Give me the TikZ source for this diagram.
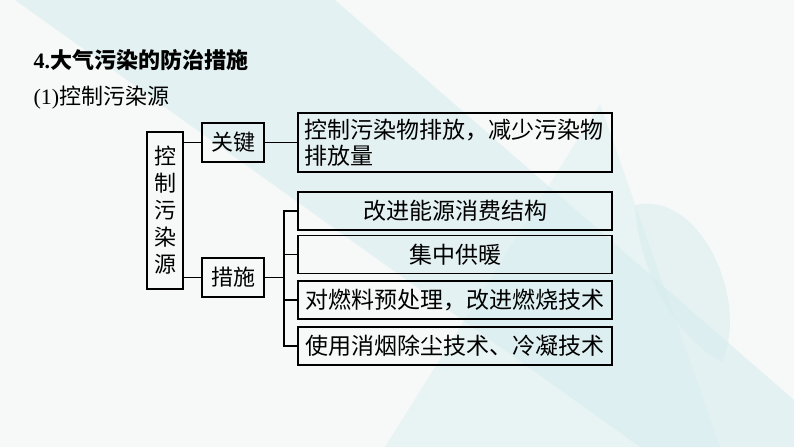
\documentclass[tikz,border=0pt]{standalone}
\usepackage{fontspec}
\setmainfont{Liberation Serif}
\newfontfamily\cjk{Noto Sans CJK SC}
\definecolor{bgbase}{RGB}{247,248,248}
\definecolor{bgcyan}{RGB}{214,237,238}
\tikzset{
  box/.style={draw=black, line width=1.8pt, inner sep=0pt, text=black,
    font=\cjk\fontsize{22}{27}\selectfont},
  wide/.style={box, minimum width=314pt, minimum height=38pt,
    font=\cjk\fontsize{23}{26}\selectfont},
  link/.style={line width=1.8pt}
}
\begin{document}
\begin{tikzpicture}[x=1pt, y=-1pt]
    \useasboundingbox (0,0) rectangle (794,447);
    % background
    \fill[bgbase] (0,0) rectangle (794,447);
    \fill[bgcyan, opacity=.55] (15,0) -- (335,0) -- (794,400) -- (794,447) -- (640,447) -- cycle;
    \fill[bgcyan, opacity=.45] (600,104) -- (720,447) -- (385,447) -- cycle;
    \fill[bgcyan, opacity=.5] (635,205) .. controls (700,190) and (750,300) .. (722,362)
        .. controls (680,340) and (640,280) .. cycle;
    % headings
    \node[anchor=west, font=\bfseries\fontsize{22}{26}\selectfont] (title) at (30,60) {4.{\cjk 大气污染的防治措施}};
    \node[anchor=west, font=\fontsize{22}{26}\selectfont] (sub) at (30,98) {(1){\cjk 控制污染源}};
    % tree
    \node[box, minimum width=36pt, minimum height=157pt, align=center] (src) at (165,210.5) {控\\制\\污\\染\\源};
    \node[box, minimum width=62pt, minimum height=39pt] (key) at (233,142.5) {关键};
    \node[box, minimum width=62pt, minimum height=39pt] (meas) at (233,277.5) {措施};
    \node[box, minimum width=314pt, minimum height=59pt, text width=302pt, align=left,
        font=\cjk\fontsize{23}{26}\selectfont] (goal) at (455,142.5) {控制污染物排放，减少污染物\\排放量};
    \node[wide] (m1) at (455,211) {改进能源消费结构};
    \node[wide] (m2) at (455,254.5) {集中供暖};
    \node[wide] (m3) at (455,300) {对燃料预处理，改进燃烧技术};
    \node[wide] (m4) at (455,346) {使用消烟除尘技术、冷凝技术};
    \coordinate (bus) at (284,0);
    \draw[link] (src.east |- key.west) -- (key.west);
    \draw[link] (src.east |- meas.west) -- (meas.west);
    \draw[link] (key.east) -- (goal.west);
    \draw[link] (meas.east) -- (meas.east -| bus);
    \draw[link] (m1.west) -- (m1.west -| bus) -- (m4.west -| bus) -- (m4.west);
    \draw[link] (m2.west -| bus) -- (m2.west);
    \draw[link] (m3.west -| bus) -- (m3.west);
\end{tikzpicture}
\end{document}
